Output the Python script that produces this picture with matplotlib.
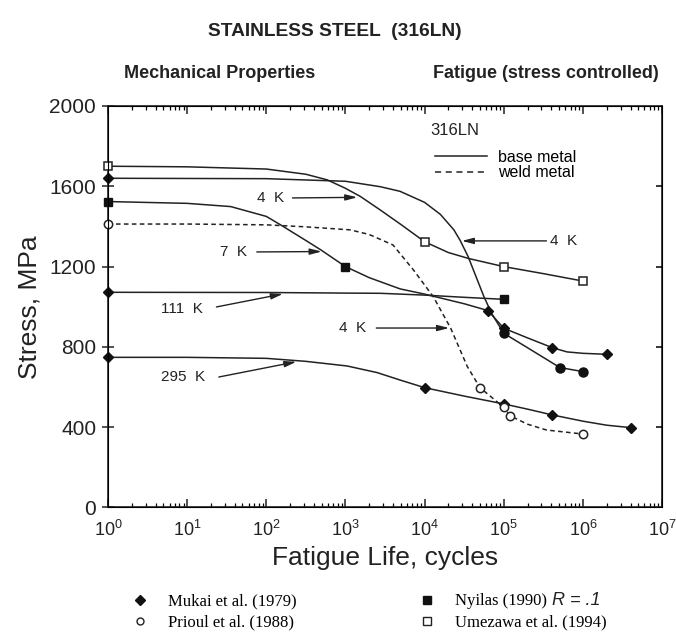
import numpy as np
import matplotlib.pyplot as plt
from matplotlib.lines import Line2D

plt.rcParams['font.family'] = ['Liberation Sans', 'DejaVu Sans']

# curve traces: log10(cycles), stress in MPa
umezawa_4k_logn = [0, 1, 2, 2.5, 2.77, 3.0, 3.19, 3.44, 3.7, 4.0, 4.3, 4.56, 5.0, 5.5, 6.0]
umezawa_4k_s = [1700, 1697, 1686, 1660, 1632, 1590, 1549, 1482, 1410, 1324, 1270, 1240, 1200, 1165, 1128]

mukai_4k_logn = [0, 2, 3, 3.44, 3.69, 4.0, 4.2, 4.37, 4.45, 4.55, 4.65, 4.75, 4.85, 5.0, 5.3, 5.71, 6.0]
mukai_4k_s = [1640, 1638, 1625, 1598, 1575, 1520, 1460, 1383, 1330, 1250, 1150, 1050, 965, 868, 796, 697, 677]

k7_logn = [0, 1, 1.55, 2.0, 2.18, 2.5, 2.69, 3.0, 3.3, 3.69, 4.0, 4.5, 4.8, 5.0, 5.3, 5.615, 5.8, 6.0, 6.31]
k7_s = [1524, 1515, 1499, 1450, 1408, 1330, 1283, 1200, 1145, 1089, 1063, 1015, 981, 893, 845, 796, 775, 768, 763]

k111_logn = [0, 2, 3, 3.44, 4.0, 4.5, 5.0]
k111_s = [1072, 1071, 1068, 1067, 1058, 1047, 1037]

weld_logn = [0, 1, 2, 2.5, 3.06, 3.3, 3.6, 3.86, 4.11, 4.33, 4.54, 4.70, 5.0, 5.08, 5.3, 5.54, 6.0]
weld_s = [1412, 1412, 1408, 1398, 1383, 1360, 1308, 1183, 1050, 893, 702, 597, 499, 457, 415, 386, 366]

k295_logn = [0, 1, 2, 2.5, 3.02, 3.4, 3.69, 4.0, 4.5, 5.0, 5.3, 5.615, 6.0, 6.3, 6.6]
k295_s = [748, 748, 743, 728, 705, 672, 635, 597, 555, 516, 490, 461, 430, 410, 398]

# data points
mukai_n = [1, 1, 1, 6.3e4, 1e5, 4.1e5, 2e6, 1e4, 1e5, 4.1e5, 4e6]
mukai_s = [1640, 1072, 748, 981, 893, 796, 763, 597, 516, 461, 398]
mukai_dot_n = [1e5, 5.1e5, 1e6]
mukai_dot_s = [868, 697, 677]
prioul_n = [1, 5e4, 1e5, 1.2e5, 1e6]
prioul_s = [1412, 597, 499, 457, 366]
nyilas_n = [1, 1e3, 1e5]
nyilas_s = [1524, 1200, 1037]
umezawa_n = [1, 1e4, 1e5, 1e6]
umezawa_s = [1700, 1324, 1200, 1128]

# temperature labels: text, text pos (logN, MPa), arrow tail / tip (logN, MPa)
labels = ['4  K', '7  K', '111  K', '4  K', '295  K', '4  K']
label_pos = [(2.06, 1542), (1.58, 1273), (0.93, 989), (3.09, 894), (0.95, 650), (5.76, 1328)]
arrow_from = [(2.33, 1542), (1.88, 1273), (1.37, 999), (3.39, 894), (1.40, 650), (5.54, 1328)]
arrow_to = [(3.15, 1545), (2.70, 1275), (2.21, 1064), (4.31, 894), (2.38, 726), (4.47, 1328)]

fig = plt.figure(figsize=(6.76, 6.37), dpi=100)
ax = fig.add_axes([0.1598, 0.2033, 0.8195, 0.6303])

lw = 1.1
for xs, ys in [(umezawa_4k_logn, umezawa_4k_s), (mukai_4k_logn, mukai_4k_s),
               (k7_logn, k7_s), (k111_logn, k111_s), (k295_logn, k295_s)]:
    ax.plot(10 ** np.array(xs), ys, color='#222222', lw=lw, zorder=2)
ax.plot(10 ** np.array(weld_logn), weld_s, color='#222222', lw=lw, ls=(0, (3, 2.2)), zorder=2)

ax.plot(mukai_n, mukai_s, ls='none', marker='D', ms=5.5, color='#111111', zorder=3, clip_on=False)
ax.plot(mukai_dot_n, mukai_dot_s, ls='none', marker='o', ms=6.5, color='#111111', zorder=3)
ax.plot(nyilas_n, nyilas_s, ls='none', marker='s', ms=6, color='#111111', zorder=3, clip_on=False)
ax.plot(prioul_n, prioul_s, ls='none', marker='o', ms=6, mfc='white', mec='#222222', mew=1.1,
        zorder=3, clip_on=False)
ax.plot(umezawa_n, umezawa_s, ls='none', marker='s', ms=6, mfc='white', mec='#222222', mew=1.1,
        zorder=3, clip_on=False)

for t, p, a, b in zip(labels, label_pos, arrow_from, arrow_to):
    ax.text(10 ** p[0], p[1], t, ha='center', va='center', fontsize=11, color='#222222')
    ax.annotate('', xy=(10 ** b[0], b[1]), xytext=(10 ** a[0], a[1]),
                arrowprops=dict(arrowstyle='-|>,head_width=0.18,head_length=0.7',
                                color='#222222', lw=1.0, shrinkA=0, shrinkB=0))

ax.set_xscale('log')
ax.set_xlim(1, 1e7)
ax.set_ylim(0, 2000)
ax.set_yticks([0, 400, 800, 1200, 1600, 2000])
ax.set_xticks([10 ** k for k in range(8)])
ax.tick_params(axis='x', which='major', direction='in', length=6, width=1.1, top=True,
               labelsize=13, pad=9, colors='#222222')
ax.tick_params(axis='x', which='minor', direction='in', length=3, width=0.9, top=True)
ax.tick_params(axis='y', which='major', direction='inout', length=9, width=1.1,
               labelsize=15, pad=4, colors='#222222')
for s in ax.spines.values():
    s.set_linewidth(1.2)
    s.set_color('#222222')

ax2 = ax.twinx()
ax2.set_ylim(0, 2000)
ax2.set_yticks([400, 800, 1200, 1600])
ax2.tick_params(axis='y', direction='in', length=4, width=1.1, labelright=False)

ax.set_xlabel('Fatigue Life, cycles', fontsize=19, color='#222222', labelpad=4)
ax.set_ylabel('Stress, MPa', fontsize=19, color='#222222', labelpad=6)

# material legend inside the plot
ax.text(0.581, 0.940, '316LN', transform=ax.transAxes, ha='left', va='center',
        fontsize=12, color='#222222')
handles = [Line2D([], [], color='#222222', lw=lw),
           Line2D([], [], color='#222222', lw=lw, ls=(0, (4, 3)))]
ax.legend(handles, ['base metal', 'weld metal'], loc='upper left',
          bbox_to_anchor=(0.565, 0.927), frameon=False, fontsize=11.5,
          handlelength=3.2, handletextpad=0.7, labelspacing=0.05)

fig.text(0.496, 0.951, 'STAINLESS STEEL  (316LN)', ha='center', va='center',
         fontsize=13.8, fontweight='bold', color='#222222')
fig.text(0.183, 0.884, 'Mechanical Properties', ha='left', va='center',
         fontsize=13, fontweight='bold', color='#222222')
fig.text(0.975, 0.884, 'Fatigue (stress controlled)', ha='right', va='center',
         fontsize=13, fontweight='bold', color='#222222')

src_handles = [Line2D([], [], ls='none', marker='D', ms=5, color='#111111'),
               Line2D([], [], ls='none', marker='o', ms=5, mfc='white', mec='#222222'),
               Line2D([], [], ls='none', marker='s', ms=5.5, color='#111111'),
               Line2D([], [], ls='none', marker='s', ms=5.5, mfc='white', mec='#222222')]
src_labels = ['Mukai et al. (1979)', 'Prioul et al. (1988)', 'Nyilas (1990)', 'Umezawa et al. (1994)']
fig.legend(src_handles, src_labels, ncol=2, loc='upper left', bbox_to_anchor=(0.185, 0.079),
           frameon=False, prop={'family': 'Liberation Serif', 'size': 12},
           handlelength=1.0, handletextpad=1.2, columnspacing=7.3, labelspacing=0.3,
           borderaxespad=0)
fig.text(0.816, 0.058, 'R = .1', ha='left', va='center', fontsize=13, style='italic',
         color='#222222')

fig.savefig('out.png', dpi=100, facecolor='white')
